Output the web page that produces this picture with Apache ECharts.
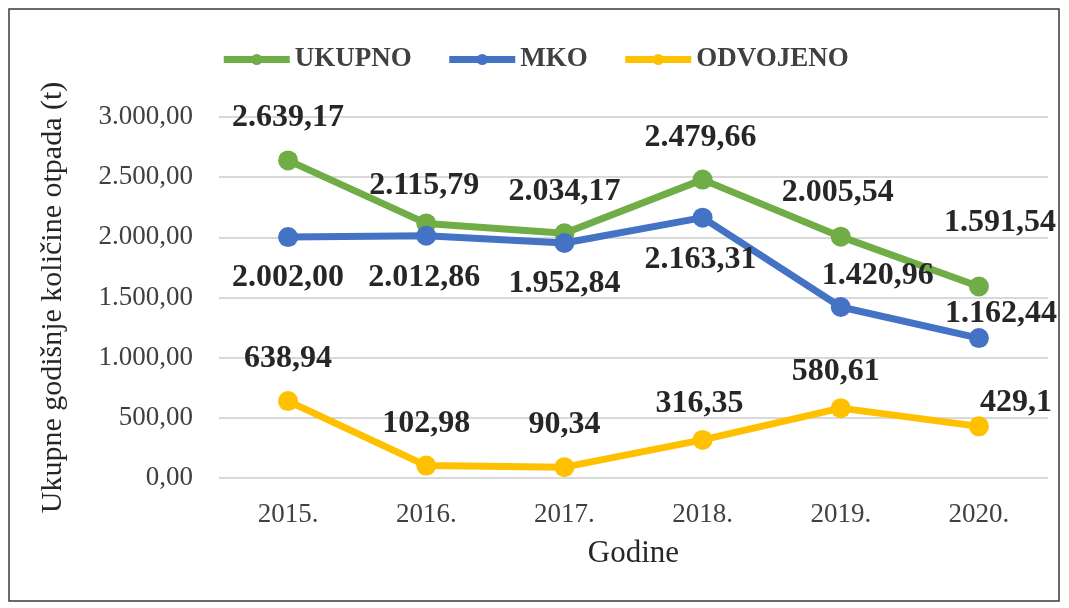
<!DOCTYPE html>
<html>
<head>
<meta charset="utf-8">
<script src="https://cdn.jsdelivr.net/npm/echarts@6/dist/echarts.min.js"></script>
<style>
  html, body { margin: 0; padding: 0; background: #fff; }
  #chart { width: 1069px; height: 608px; }
</style>
</head>
<body>
<div id="chart"></div>
<script>
// podaci
const years = ['2015.', '2016.', '2017.', '2018.', '2019.', '2020.']
const ukupno = [2639.17, 2115.79, 2034.17, 2479.66, 2005.54, 1591.54]
const mko = [2002.00, 2012.86, 1952.84, 2163.31, 1420.96, 1162.44]
const odvojeno = [638.94, 102.98, 90.34, 316.35, 580.61, 429.1]
const odvojenoDecimals = [2, 2, 2, 2, 2, 1]

// hrvatski format brojeva: 2.639,17
const fmt = (v, d) => {
  const parts = v.toFixed(d).split('.')
  const int = parts[0].replace(/\B(?=(\d{3})+(?!\d))/g, '.')
  return parts[1] ? int + ',' + parts[1] : int
}

const serif = '"Liberation Serif", "DejaVu Serif", serif'
const labelStyle = {
  show: true,
  fontFamily: serif,
  fontSize: 32,
  fontWeight: 'bold',
  color: '#262626'
}

// pozicije labela po tocki
const ukupnoLabelOffset = [[0, -12], [-2, -7], [0, -10], [-2, -11], [-3, -13], [21, -33]]
const mkoLabelPos = ['bottom', 'bottom', 'bottom', 'bottom', 'top', 'top']
const mkoLabelOffset = [[0, 10], [-2, 11], [0, 10], [-2, 11], [37, 0], [22, 7]]
const odvLabelOffset = [[0, -11], [0, -11], [0, -11], [-3, -5], [-5, -5], [37, 7]]

const chart = echarts.init(document.getElementById('chart'))

const makeData = (vals, pos, offs, dec) => vals.map((v, i) => ({
  value: v,
  label: {
    position: pos[i],
    offset: offs[i],
    formatter: () => fmt(v, dec ? dec[i] : 2)
  }
}))

const lineSeries = (name, color, data) => ({
  name: name,
  type: 'line',
  color: color,
  symbol: 'circle',
  symbolSize: 20,
  lineStyle: { width: 7 },
  label: labelStyle,
  data: data
})

const option = {
  animation: false,
  backgroundColor: '#fff',
  graphic: [{
    type: 'rect',
    shape: { x: 9, y: 9, width: 1050, height: 592 },
    style: { fill: 'none', stroke: '#3a3a3a', lineWidth: 1.5 },
    silent: true
  }],
  legend: {
    top: 41,
    left: 'center',
    itemWidth: 66,
    itemHeight: 14,
    itemGap: 34,
    lineStyle: { width: 7 },
    textStyle: { fontFamily: serif, fontSize: 27, fontWeight: 'bold', color: '#404040' },
    data: ['UKUPNO', 'MKO', 'ODVOJENO']
  },
  grid: { left: 219, right: 21, top: 117, bottom: 130 },
  xAxis: {
    type: 'category',
    data: years,
    name: 'Godine',
    nameLocation: 'middle',
    nameGap: 60,
    nameTextStyle: { fontFamily: serif, fontSize: 31, color: '#262626' },
    axisLine: { show: false },
    axisTick: { show: false },
    axisLabel: { fontFamily: serif, fontSize: 27, color: '#404040', margin: 23 }
  },
  yAxis: {
    type: 'value',
    min: 0,
    max: 3000,
    interval: 500,
    name: 'Ukupne godišnje količine otpada (t)',
    nameLocation: 'middle',
    nameGap: 151,
    nameTextStyle: { fontFamily: serif, fontSize: 30, color: '#262626' },
    axisLine: { show: false },
    axisTick: { show: false },
    splitLine: { lineStyle: { color: '#d9d9d9', width: 2 } },
    axisLabel: {
      fontFamily: serif, fontSize: 27, color: '#404040', margin: 26,
      formatter: v => fmt(v, 2)
    }
  },
  series: [
    lineSeries('UKUPNO', '#70AD47', makeData(ukupno, ukupno.map(() => 'top'), ukupnoLabelOffset)),
    lineSeries('MKO', '#4472C4', makeData(mko, mkoLabelPos, mkoLabelOffset)),
    lineSeries('ODVOJENO', '#FFC000', makeData(odvojeno, odvojeno.map(() => 'top'), odvLabelOffset, odvojenoDecimals))
  ]
}

chart.setOption(option)
</script>
</body>
</html>
